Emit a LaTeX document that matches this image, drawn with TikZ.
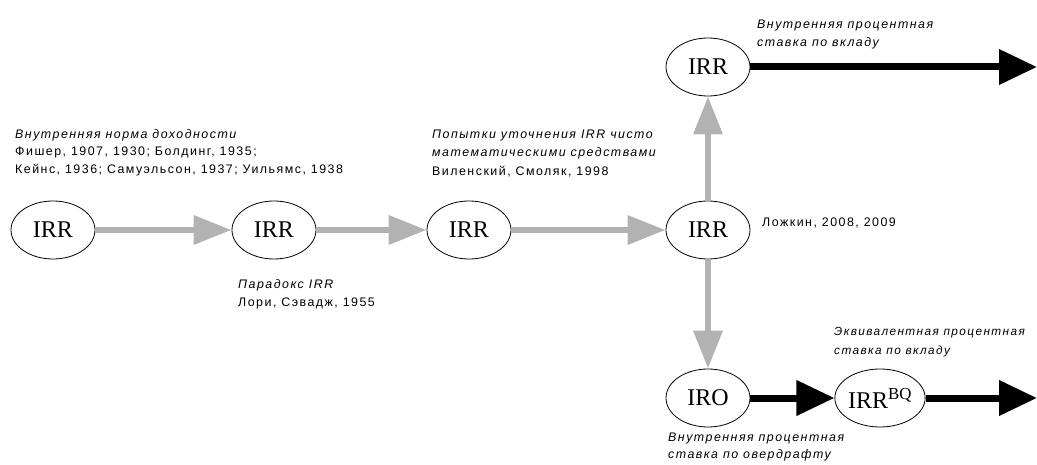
\documentclass[tikz,border=0pt]{standalone}
\usepackage{fontspec}
\setmainfont{Liberation Serif}
\newfontfamily\lab[LetterSpace=12]{Liberation Sans}
\usetikzlibrary{arrows.meta,shapes.geometric}
\begin{document}
\begin{tikzpicture}[x=1pt,y=-1pt,
  ell/.style={draw,ellipse,line width=0.8pt,minimum width=84pt,minimum height=58pt,inner sep=0pt,font=\fontsize{24}{26}\selectfont},
  garrow/.style={draw={rgb,255:red,178;green,178;blue,178},line width=6.5pt,-{Triangle[length=38pt,width=28pt]}},
  barrow/.style={draw=black,line width=7pt,-{Triangle[length=38pt,width=34pt]}},
  lbl/.style={anchor=base west,inner sep=0pt,font=\lab\fontsize{12.4}{14}\selectfont}
]
\useasboundingbox (0,0) rectangle (1037,465);
\node[ell] (e1) at (53,230) {IRR};
\node[ell] (e2) at (274,230) {IRR};
\node[ell] (e3) at (469,230) {IRR};
\node[ell] (e4) at (708,230) {IRR};
\node[ell] (e5) at (708,67) {IRR};
\node[ell] (e6) at (708,398) {IRO};
\node[ell,minimum width=80pt] (e7) at (880,398) {IRR\textsuperscript{BQ}};
\coordinate (t1) at (1037,67);
\coordinate (t2) at (1037,398);
\draw[garrow] (e1) -- (e2);
\draw[garrow] (e2) -- (e3);
\draw[garrow] (e3) -- (e4);
\draw[garrow] (e4) -- (e5);
\draw[garrow] (e4) -- (e6);
\draw[barrow] (e5) -- (t1);
\draw[barrow] (e6) -- (e7);
\draw[barrow] (e7) -- (t2);
% labels
\node[lbl] (a1) at (15,139) {\itshape Внутренняя норма доходности};
\node[lbl] (a2) at (15,156) {Фишер, 1907, 1930; Болдинг, 1935;};
\node[lbl] (a3) at (15,174) {Кейнс, 1936; Самуэльсон, 1937; Уильямс, 1938};
\node[lbl] (b1) at (432,139) {\itshape Попытки уточнения IRR чисто};
\node[lbl] (b2) at (432,157) {\itshape математическими средствами};
\node[lbl] (b3) at (432,176) {Виленский, Смоляк, 1998};
\node[lbl] (c1) at (762,227) {Ложкин, 2008, 2009};
\node[lbl] (d1) at (238,289) {\itshape Парадокс IRR};
\node[lbl] (d2) at (238,307) {Лори, Сэвадж, 1955};
\node[lbl] (f1) at (757,29) {\itshape Внутренняя процентная};
\node[lbl] (f2) at (757,47) {\itshape ставка по вкладу};
\node[lbl,font=\lab\fontsize{11.8}{14}\selectfont] (g1) at (834,336) {\itshape Эквивалентная процентная};
\node[lbl,font=\lab\fontsize{11.8}{14}\selectfont] (g2) at (834,354) {\itshape ставка по вкладу};
\node[lbl] (h1) at (668,441) {\itshape Внутренняя процентная};
\node[lbl] (h2) at (668,458) {\itshape ставка по овердрафту};
\end{tikzpicture}
\end{document}
